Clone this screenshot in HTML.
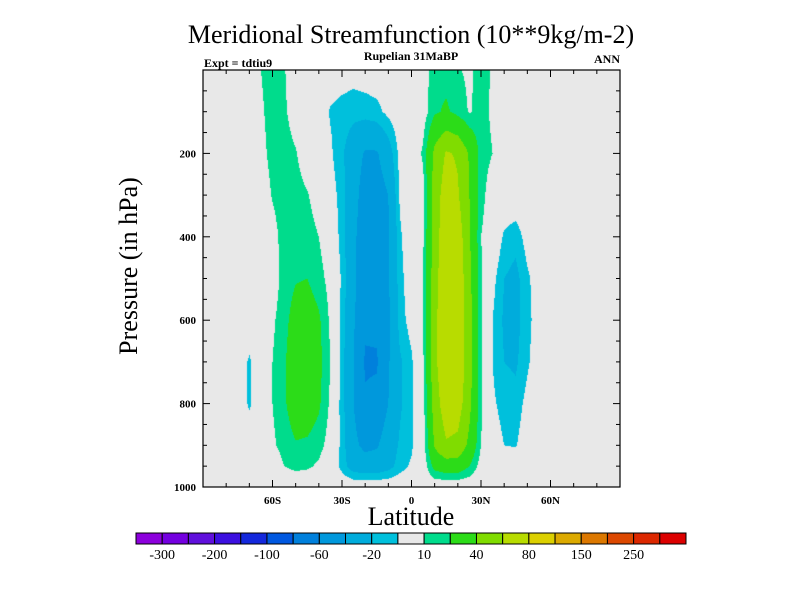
<!DOCTYPE html>
<html><head><meta charset="utf-8"><style>
html,body{margin:0;padding:0;background:#fff;}
#wrap{position:relative;width:800px;height:600px;overflow:hidden;font-family:"Liberation Serif",serif;}
#plot{position:absolute;left:203px;top:70px;}
svg{position:absolute;left:0;top:0;}
</style></head><body>
<div id="wrap">
<canvas id="plot" width="417" height="417"></canvas>
<svg id="ov" width="800" height="600">
<text x="411" y="43" font-size="26" text-anchor="middle" font-family="Liberation Serif, serif">Meridional Streamfunction (10**9kg/m-2)</text>
<text x="411" y="60" font-size="12" font-weight="bold" text-anchor="middle" font-family="Liberation Serif, serif">Rupelian  31MaBP</text>
<text x="204" y="67" font-size="12" font-weight="bold" font-family="Liberation Serif, serif">Expt = tdtiu9</text>
<text x="620" y="63" font-size="12" font-weight="bold" text-anchor="end" font-family="Liberation Serif, serif">ANN</text>
<text x="0" y="0" font-size="26" text-anchor="middle" transform="translate(137,266) rotate(-90)" font-family="Liberation Serif, serif">Pressure (in hPa)</text>
<text x="411" y="525" font-size="26" text-anchor="middle" font-family="Liberation Serif, serif">Latitude</text>
<g id="axes"></g>
<g id="cbar"></g>
</svg>
</div>
<script>
const lats=[-90,-85,-80,-75,-70,-65,-60,-55,-50,-45,-40,-35,-30,-25,-20,-15,-10,-5,0,5,10,15,20,25,30,35,40,45,50,55,60,65,70,75,80,85,90];
const pressures=[0,100,200,300,400,500,600,700,800,900,950,1000];
const row0=[0,0,0,0,0,10,16,11,2,0,-2,-3,-4,-5,-4,-3,-2,0,0,4,16,16,11,8,14,9,0,0,0,0,0,0,0,0,0,0,0];
const row100=[0,0,0,0,0,8,15,12,4,0,-4,-11,-14,-16,-15,-13,-7,-2,0,4,18,22,16,9,14,8,0,0,0,0,0,0,0,0,0,0,0];
const row200=[0,0,0,0,0,6,14,15,11,2,-2,-8,-18,-30,-42,-42,-28,-6,0,12,45,62,58,38,15,10,2,0,0,0,0,0,0,0,0,0,0];
const row300=[0,0,0,0,0,2,11,16,15,11,3,-4,-15,-32,-50,-50,-40,-8,0,5,50,70,62,40,14,3,0,0,0,0,0,0,0,0,0,0,0];
const row400=[0,0,0,0,0,0,5,15,17,16,10,2,-15,-35,-55,-55,-42,-12,0,8,50,75,72,42,10,2,-12,-16,-5,0,0,0,0,0,0,0,0];
const row500=[0,0,0,0,0,0,4,14,19,20,14,6,-12,-35,-56,-56,-42,-14,-2,10,52,78,75,45,12,-6,-20,-24,-12,-4,0,0,0,0,0,0,0];
const row600=[0,0,0,0,0,0,8,16,26,28,22,8,-14,-38,-57,-56,-44,-15,-5,10,55,78,76,48,12,-10,-22,-24,-14,-3,0,0,0,0,0,0,0];
const row700=[0,0,0,0,-12,0,10,18,30,32,24,10,-15,-40,-62,-62,-42,-22,-12,8,55,78,76,48,12,-10,-20,-22,-12,-2,0,0,0,0,0,0,0];
const row800=[0,0,0,0,-12,0,10,18,28,28,22,8,-15,-40,-58,-55,-40,-22,-12,5,50,72,70,45,12,-8,-14,-16,-6,0,0,0,0,0,0,0,0];
const row900=[0,0,0,0,0,0,8,14,19,18,14,5,-14,-35,-45,-42,-30,-18,-12,4,42,58,55,35,10,-4,-10,-11,-2,0,0,0,0,0,0,0,0];
const row950=[0,0,0,0,0,0,2,10,13,12,8,0,-14,-28,-30,-30,-25,-15,-8,2,25,30,30,20,5,0,-2,0,0,0,0,0,0,0,0,0,0];
const row1000=[0,0,0,0,0,0,0,0,0,0,0,0,0,0,0,0,0,0,0,0,0,0,0,0,0,0,0,0,0,0,0,0,0,0,0,0,0];
const field=[row0,row100,row200,row300,row400,row500,row600,row700,row800,row900,row950,row1000];
const levels=[-300,-250,-200,-150,-100,-80,-60,-40,-20,-10,10,20,40,60,80,100,150,200,250,300];
const levelLabels=["-300","-200","-100","-60","-20","10","40","80","150","250"];
const colors=["#8c00dc","#7400e0","#6010dc","#3c10e0","#1428dc","#0058e0","#0080dc","#0098dc","#00acdc","#00c0dc","#e8e8e8","#00dc8c","#2cdc18","#80dc00","#b8dc00","#dcd000","#dcaa00","#dc7800","#dc4800","#dc2800","#dc0000"];
const latTicks=[-60,-30,0,30,60];const latTickLabels=["60S","30S","0","30N","60N"];
const pTicks=[200,400,600,800,1000];

const X0=203,X1=620,Y0=70,Y1=487;
const xOf=l=>X0+(l+90)/180*(X1-X0);
const yOf=p=>Y0+p/1000*(Y1-Y0);
function lvlIdx(v){let i=0;while(i<levels.length&&v>=levels[i])i++;return i;}
function hex(c){return [parseInt(c.substr(1,2),16),parseInt(c.substr(3,2),16),parseInt(c.substr(5,2),16)];}
function sample(lat,p){
  let i=0;while(i<lats.length-2&&lat>lats[i+1])i++;
  let j=0;while(j<pressures.length-2&&p>pressures[j+1])j++;
  const tx=(lat-lats[i])/(lats[i+1]-lats[i]),ty=(p-pressures[j])/(pressures[j+1]-pressures[j]);
  const a=field[j][i],b=field[j][i+1],c=field[j+1][i],d=field[j+1][i+1];
  return (a*(1-tx)+b*tx)*(1-ty)+(c*(1-tx)+d*tx)*ty;
}
const cv=document.getElementById('plot');const ctx=cv.getContext('2d');
const W=cv.width,H=cv.height;const img=ctx.createImageData(W,H);const rgb=colors.map(hex);
for(let y=0;y<H;y++){const p=(y+0.5)/H*1000;for(let x=0;x<W;x++){const lat=-90+(x+0.5)/W*180;
 const c=rgb[lvlIdx(sample(lat,p))];const k=(y*W+x)*4;img.data[k]=c[0];img.data[k+1]=c[1];img.data[k+2]=c[2];img.data[k+3]=255;}}
ctx.putImageData(img,0,0);

const NS='http://www.w3.org/2000/svg';
function mk(tag,attrs,parent){const e=document.createElementNS(NS,tag);for(const k in attrs)e.setAttribute(k,attrs[k]);parent.appendChild(e);return e;}
const ax=document.getElementById('axes');
const frame=mk('rect',{x:X0,y:Y0,width:X1-X0,height:Y1-Y0,fill:'none',stroke:'#000','stroke-width':1.2},ax);


for(let l=-80;l<=80;l+=10){const x=xOf(l);const len=(l%30===0)?7:4;
 const t1=mk('line',{x1:x,y1:Y1,x2:x,y2:Y1-len,stroke:'#000'},ax);
 
 
 const t2=mk('line',{x1:x,y1:Y0,x2:x,y2:Y0+len,stroke:'#000'},ax);
 
 }
for(let p=50;p<1000;p+=50){const y=yOf(p);const len=(p%200===0)?7:4;
 const t1=mk('line',{x1:X0,y1:y,x2:X0+len,y2:y,stroke:'#000'},ax);
 
 
 const t2=mk('line',{x1:X1,y1:y,x2:X1-len,y2:y,stroke:'#000'},ax);
 
 }
latTicks.forEach((l,i)=>{const t=mk('text',{x:xOf(l),y:504,'font-size':11,'font-weight':'bold','text-anchor':'middle'},ax);t.textContent=latTickLabels[i];
 
 });
pTicks.forEach(p=>{const t=mk('text',{x:196,y:yOf(p)+4,'font-size':11,'font-weight':'bold','text-anchor':'end'},ax);t.textContent=String(p);
 
 });
const cb=document.getElementById('cbar');const CX0=136,CX1=686,CY=533,CH=11;const bw=(CX1-CX0)/colors.length;
colors.forEach((c,i)=>{const r=mk('rect',{x:CX0+i*bw,y:CY,width:bw,height:CH,fill:c,stroke:'#000','stroke-width':1},cb);
 
 });
levelLabels.forEach((s,i)=>{const t=mk('text',{x:CX0+(2*i+1)*bw,y:CY+CH+15,'font-size':14,'text-anchor':'middle'},cb);t.textContent=s;
 
 });
</script>
</body></html>
